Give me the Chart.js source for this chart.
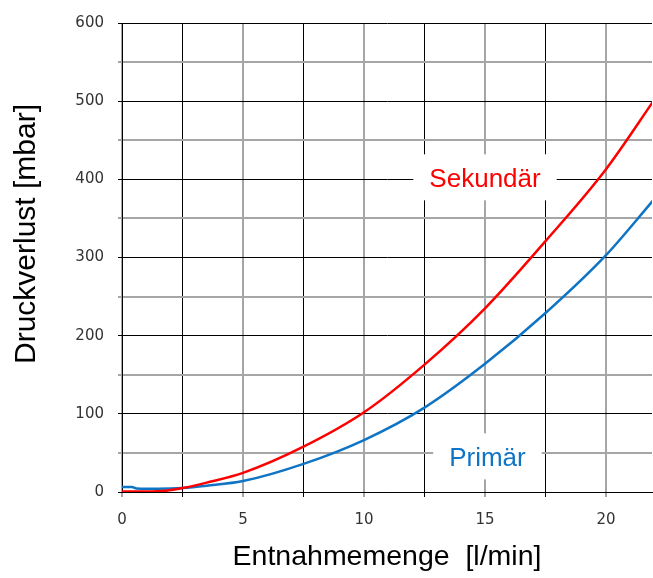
<!DOCTYPE html>
<html>
<head>
<meta charset="utf-8">
<script src="https://cdn.jsdelivr.net/npm/chart.js@4/dist/chart.umd.min.js"></script>
<style>
    html, body { margin: 0; padding: 0; background: #fff; }
    canvas { display: block; }
</style>
</head>
<body>
<canvas id="chart" width="653" height="578"></canvas>
<script>
// values
let sekundaerX = [0, 1, 1.8, 2.5, 3.5, 5, 7.5, 10, 12.5, 15, 17.5, 20, 22];
let sekundaerY = [0.5, 0.5, 1.5, 5, 12, 24.5, 58, 102, 163, 235, 321, 413, 502];
let primaerX = [0, 0.4, 0.6, 1.5, 2.5, 3.5, 5, 7.5, 10, 12.5, 15, 17.5, 20, 22];
let primaerY = [6.5, 6.5, 4.5, 4, 5, 8, 14, 36, 66.5, 108, 164, 229, 303, 375];

let xTitle = 'Entnahmemenge  [l/min]';
let yTitle = 'Druckverlust [mbar]';

// in-plot labels: text, x value, y value, colour
let curveLabels = [
    { text: 'Sekundär', x: 15, y: 400, color: 'rgb(255,0,0)' },
    { text: 'Primär', x: 15.1, y: 43, color: 'rgb(16,116,196)' }
];

function toPoints(xs, ys) {
    return xs.map((x, i) => ({ x: x, y: ys[i] }));
}

let labelPlugin = {
    id: 'curveLabels',
    afterDatasetsDraw(chart) {
        let ctx = chart.ctx,
            xs = chart.scales.x,
            ys = chart.scales.y;

        ctx.save();
        ctx.font = '26px "Liberation Sans", Arial, sans-serif';
        ctx.textAlign = 'center';
        ctx.textBaseline = 'middle';
        curveLabels.forEach(l => {
            let px = xs.getPixelForValue(l.x),
                py = ys.getPixelForValue(l.y),
                w = ctx.measureText(l.text).width;
            ctx.fillStyle = '#fff';
            ctx.fillRect(px - w / 2 - 16, py - 25, w + 32, 46);
            ctx.fillStyle = l.color;
            ctx.fillText(l.text, px, py);
        });

        // y axis title, set a little above the middle like the reference
        ctx.fillStyle = '#000';
        ctx.font = '30px "Liberation Sans", Arial, sans-serif';
        ctx.translate(27, 234);
        ctx.rotate(-Math.PI / 2);
        ctx.fillText(yTitle, 0, 0);
        ctx.restore();
    }
};

let ctx = document.getElementById('chart').getContext('2d');

new Chart(ctx, {
    type: 'scatter',
    data: {
        datasets: [{
            label: 'Sekundär',
            data: toPoints(sekundaerX, sekundaerY),
            showLine: true,
            borderColor: 'rgb(255,0,0)',
            borderWidth: 2.5,
            pointRadius: 0,
            cubicInterpolationMode: 'monotone'
        }, {
            label: 'Primär',
            data: toPoints(primaerX, primaerY),
            showLine: true,
            borderColor: 'rgb(16,116,196)',
            borderWidth: 2.5,
            pointRadius: 0,
            cubicInterpolationMode: 'monotone'
        }]
    },
    options: {
        responsive: false,
        animation: false,
        events: [],
        layout: { padding: { left: 0, top: 21, right: 1, bottom: 0 } },
        plugins: {
            legend: { display: false },
            tooltip: { enabled: false }
        },
        scales: {
            x: {
                type: 'linear',
                min: 0,
                max: 21.9,
                afterFit: scale => { scale.height = 86; },
                grid: {
                    color: c => c.tick && c.tick.value % 5 === 0 ? '#a6a6a6' : '#000',
                    lineWidth: c => c.tick && c.tick.value % 5 === 0 ? 2 : 1,
                    tickLength: 5
                },
                border: { color: '#000', width: 1 },
                ticks: {
                    stepSize: 2.5,
                    includeBounds: false,
                    autoSkip: false,
                    maxRotation: 0,
                    padding: 14,
                    color: '#333',
                    font: { family: '"DejaVu Sans", sans-serif', size: 15 },
                    callback: v => v % 5 === 0 ? String(v) : ''
                },
                title: {
                    display: true,
                    text: xTitle,
                    color: '#000',
                    font: { family: '"Liberation Sans", Arial, sans-serif', size: 28.5 },
                    padding: { top: 0, bottom: 4 }
                }
            },
            y: {
                min: 0,
                max: 600,
                afterFit: scale => { scale.width = 122; },
                grid: {
                    color: c => c.tick && c.tick.value % 100 === 0 ? '#000' : '#a6a6a6',
                    lineWidth: c => c.tick && c.tick.value % 100 === 0 ? 1 : 2,
                    tickLength: 4
                },
                border: { color: '#000', width: 1 },
                ticks: {
                    stepSize: 50,
                    autoSkip: false,
                    padding: 14,
                    color: '#333',
                    font: { family: '"DejaVu Sans", sans-serif', size: 15 },
                    callback: v => v % 100 === 0 ? String(v) : ''
                }
            }
        }
    },
    plugins: [labelPlugin]
});
</script>
</body>
</html>
